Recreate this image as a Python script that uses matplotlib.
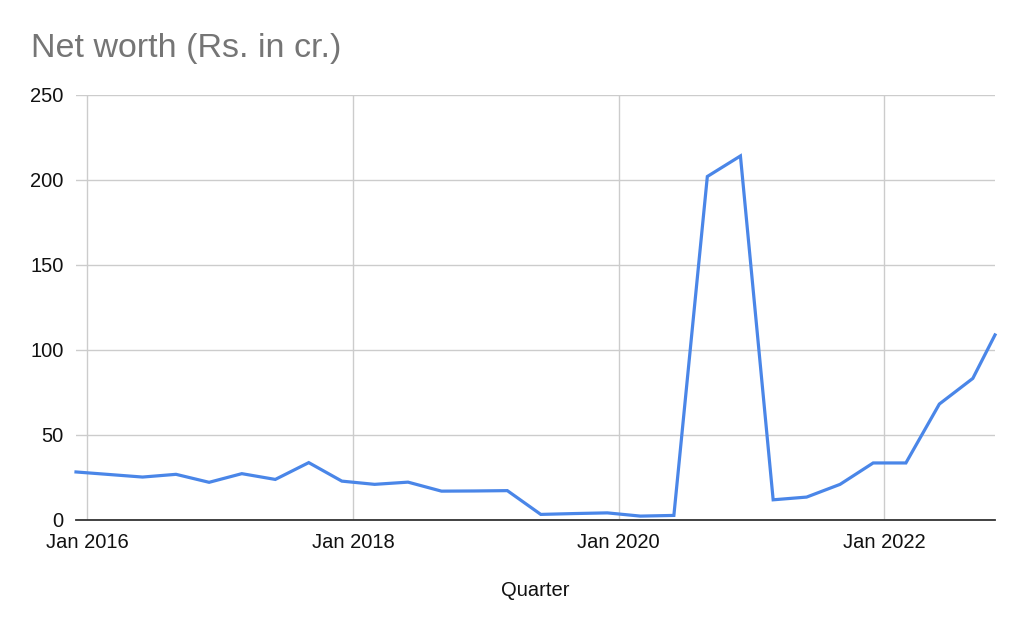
import matplotlib
matplotlib.use("Agg")
import matplotlib.pyplot as plt
import pandas as pd

dates = ["2015-12-01", "2016-06-01", "2016-09-01", "2016-12-01",
         "2017-03-01", "2017-06-01", "2017-09-01", "2017-12-01",
         "2018-03-01", "2018-06-01", "2018-09-01", "2018-12-01",
         "2019-03-01", "2019-06-01", "2019-09-01", "2019-12-01",
         "2020-03-01", "2020-06-01", "2020-09-01", "2020-12-01",
         "2021-03-01", "2021-06-01", "2021-09-01", "2021-12-01",
         "2022-03-01", "2022-06-01", "2022-09-01", "2022-11-01"]
net_worth = [28.0, 25.0, 26.6, 21.9,
             27.0, 23.6, 33.5, 22.6,
             20.7, 22.0, 16.7, 16.8,
             17.0, 3.0, 3.5, 3.9,
             2.0, 2.4, 202.0, 214.1,
             11.6, 13.2, 20.7, 33.3,
             33.3, 68.0, 83.1, 108.7]
y_ticks = [0, 50, 100, 150, 200, 250]
x_tick_dates = ["2016-01-01", "2018-01-01", "2020-01-01", "2022-01-01"]
x_tick_labels = ["Jan 2016", "Jan 2018", "Jan 2020", "Jan 2022"]
title = "Net worth (Rs. in cr.)"
x_label = "Quarter"

plt.rcParams['font.family'] = ['Liberation Sans', 'DejaVu Sans']

x = pd.to_datetime(dates)
fig = plt.figure(figsize=(10.24, 6.31), dpi=100)
ax = fig.add_axes([76/1024, 1-519.5/631, (995-76)/1024, (519.5-95)/631])

ax.plot(x, net_worth, color="#4a86e8", linewidth=2.3, solid_joinstyle="miter", zorder=3,
        clip_on=False)

ax.set_xlim(x.min(), x.max())
ax.set_ylim(0, 250)
ax.set_yticks(y_ticks)
ax.set_yticklabels([str(v) for v in y_ticks])
ax.set_xticks(pd.to_datetime(x_tick_dates))
ax.set_xticklabels(x_tick_labels)

ax.grid(True, color="#cccccc", linewidth=1.0, zorder=0)
for s in ["top", "right", "left"]:
    ax.spines[s].set_visible(False)
ax.spines["bottom"].set_color("#333333")
ax.spines["bottom"].set_linewidth(1.3)
ax.spines["bottom"].set_zorder(4)
ax.tick_params(axis="both", length=0, labelsize=14.5, colors="#111111")
ax.tick_params(axis="y", pad=9)
ax.tick_params(axis="x", pad=10)

fig.text(31/1024, 1-48/631, title, fontsize=24.5, color="#757575", ha="left", va="center")
fig.text(535/1024, 1-591/631, x_label, fontsize=14.5, color="#111111", ha="center", va="center")

fig.savefig("out.png", dpi=100)
